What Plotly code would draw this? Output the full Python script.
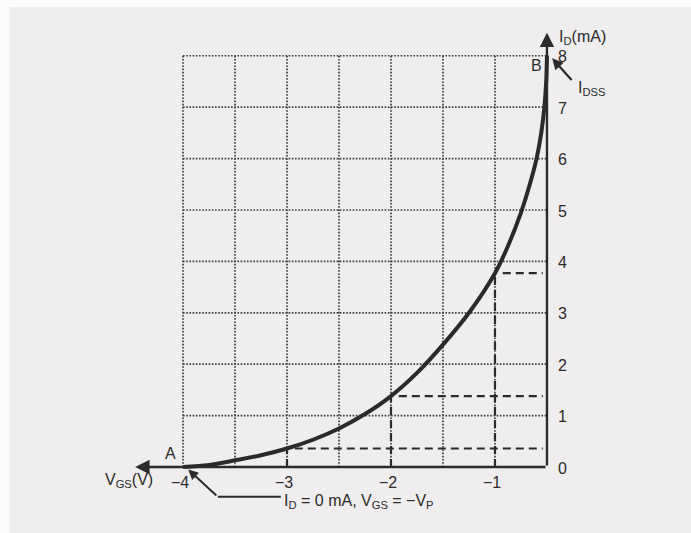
import plotly.graph_objects as go

# Transfer characteristic of an n-channel JFET, drawn on a grid of divisions.
# x is measured in grid divisions to the left of the I_D axis; the V_GS
# labels sit on the divisions listed in vgs_tick_div.
vgs_tick_labels = ["\u22124", "\u22123", "\u22122", "\u22121"]
vgs_tick_div = [-7, -5, -3, -1]
id_tick_labels = ["0", "1", "2", "3", "4", "5", "6", "7", "8"]
id_tick_vals = [0, 1, 2, 3, 4, 5, 6, 7, 8]

# Transfer curve I_D (mA) against grid division
curve_div = [-7, -6.5, -6, -5.5, -5, -4.5, -4, -3.5, -3, -2.5, -2, -1.5,
             -1, -0.75, -0.5, -0.33, -0.2, -0.11, -0.05, -0.015, 0]
curve_id = [0, 0.04, 0.13, 0.23, 0.36, 0.53, 0.75, 1.03, 1.38, 1.83, 2.38,
            3.0, 3.77, 4.3, 4.95, 5.5, 6.0, 6.5, 7.0, 7.5, 8.0]

op_div = [-5, -3, -1]
op_id = [0.36, 1.38, 3.77]

grid_x = [-7, -6, -5, -4, -3, -2, -1]
grid_y = [1, 2, 3, 4, 5, 6, 7, 8]

INK = "#2b2b2b"
FONT = "Liberation Sans, Arial, sans-serif"

fig = go.Figure()

shapes = []
# dotted grid
grid_line = dict(color="#3c3c3c", width=1.7, dash="1.6px,1.6px")
for gx in grid_x:
    shapes.append(dict(type="line", x0=gx, x1=gx, y0=0, y1=8, layer="below",
                       line=grid_line))
for gy in grid_y:
    shapes.append(dict(type="line", x0=-7, x1=0, y0=gy, y1=gy, layer="below",
                       line=grid_line))

# dashed projections from each operating point to both axes
for d, i in zip(op_div, op_id):
    shapes.append(dict(type="line", x0=d, x1=d, y0=0, y1=i,
                       line=dict(color=INK, width=2.2, dash="8px,5px")))
    shapes.append(dict(type="line", x0=d + 0.15, x1=-0.08, y0=i, y1=i,
                       line=dict(color=INK, width=2.2, dash="8px,5px")))

# scanned-page edges
shapes.append(dict(type="rect", xref="paper", yref="paper", x0=0, x1=0.014,
                   y0=0, y1=1, fillcolor="#fbfbfb", line=dict(width=0), layer="below"))
shapes.append(dict(type="rect", xref="paper", yref="paper", x0=0, x1=1,
                   y0=0.987, y1=1, fillcolor="#fbfbfb", line=dict(width=0), layer="below"))

# elbow leader for the pinch-off note
shapes.append(dict(type="line", x0=-6.33, x1=-5.12, y0=-0.58, y1=-0.58,
                   line=dict(color=INK, width=2)))

fig.add_trace(go.Scatter(
    x=curve_div, y=curve_id, mode="lines",
    line=dict(color="#2a2a2a", width=4, shape="spline", smoothing=0.9),
    hoverinfo="skip", showlegend=False,
))

ann = []
# axes with arrowheads
ann.append(dict(x=-7.92, y=0, ax=0, ay=0, xref="x", yref="y", axref="x", ayref="y",
                showarrow=True, arrowhead=2, arrowsize=1.2, arrowwidth=2.4,
                arrowcolor=INK, text=""))
ann.append(dict(x=0, y=8.45, ax=0, ay=0, xref="x", yref="y", axref="x", ayref="y",
                showarrow=True, arrowhead=2, arrowsize=1.2, arrowwidth=2.4,
                arrowcolor=INK, text=""))

tick_font = dict(family=FONT, size=16, color=INK)
for lab, d in zip(vgs_tick_labels, vgs_tick_div):
    ann.append(dict(x=d - 0.06, y=-0.3, text=lab, showarrow=False,
                    font=tick_font, xanchor="center", yanchor="middle"))
for lab, v in zip(id_tick_labels, id_tick_vals):
    ann.append(dict(x=0.17, y=v - 0.02, text=lab, showarrow=False,
                    font=tick_font, xanchor="left", yanchor="middle"))

ann.append(dict(x=-7.53, y=-0.27, text="V<sub>GS</sub>(V)", showarrow=False,
                font=tick_font, xanchor="right", yanchor="middle"))
ann.append(dict(x=0.2, y=8.36, text="I<sub>D</sub>(mA)", showarrow=False,
                font=tick_font, xanchor="left", yanchor="middle"))
ann.append(dict(x=-7.25, y=0.27, text="A", showarrow=False,
                font=tick_font, xanchor="center", yanchor="middle"))
ann.append(dict(x=-0.2, y=7.82, text="B", showarrow=False,
                font=tick_font, xanchor="center", yanchor="middle"))

# I_DSS pointer to point B
ann.append(dict(x=0.1, y=7.95, ax=0.5, ay=7.5, xref="x", yref="y", axref="x",
                ayref="y", showarrow=True, arrowhead=2, arrowsize=1.0,
                arrowwidth=2.2, arrowcolor=INK, text=""))
ann.append(dict(x=0.56, y=7.37, text="I<sub>DSS</sub>", showarrow=False,
                font=tick_font, xanchor="left", yanchor="middle"))

# pinch-off pointer to point A
ann.append(dict(x=-6.9, y=-0.05, ax=-6.33, ay=-0.58, xref="x", yref="y", axref="x",
                ayref="y", showarrow=True, arrowhead=2, arrowsize=1.0,
                arrowwidth=2.0, arrowcolor=INK, text=""))
ann.append(dict(x=-5.1, y=-0.68, text="I<sub>D</sub> = 0 mA, V<sub>GS</sub> = \u2212V<sub>P</sub>",
                showarrow=False, font=tick_font, xanchor="left", yanchor="middle"))

fig.update_layout(
    width=691, height=533,
    margin=dict(l=0, r=0, t=0, b=0),
    paper_bgcolor="#efeded", plot_bgcolor="#efeded",
    xaxis=dict(range=[-10.52, 2.77], visible=False, fixedrange=True),
    yaxis=dict(range=[-1.284, 9.085], visible=False, fixedrange=True),
    shapes=shapes, annotations=ann, showlegend=False,
)

fig.write_html("out.html")
